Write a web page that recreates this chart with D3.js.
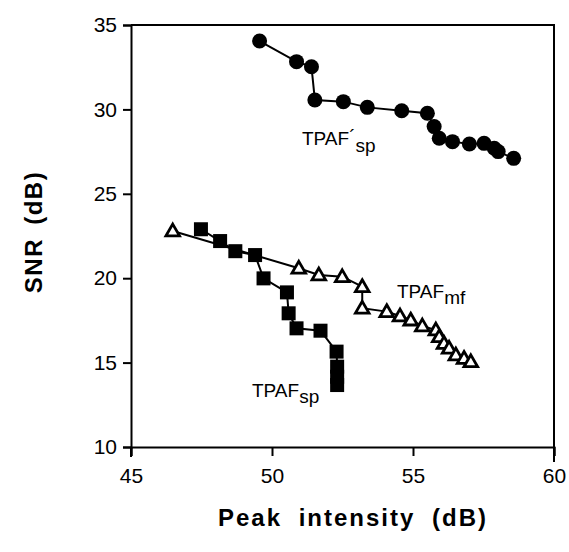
<!DOCTYPE html>
<html><head><meta charset="utf-8">
<script src="https://cdn.jsdelivr.net/npm/d3@7"></script>
<style>
html,body{margin:0;padding:0;background:#fff;}
text{font-family:"Liberation Sans",Arial,Helvetica,sans-serif;fill:#000;}
</style></head>
<body>
<svg id="c" width="569" height="552"></svg>
<script>
// ---- data ----
const circX = [49.56,50.87,51.40,51.52,52.53,53.38,54.60,55.51,55.75,55.93,56.40,57.00,57.52,57.88,58.02,58.57];
const circY = [34.05,32.83,32.53,30.56,30.46,30.12,29.92,29.77,28.98,28.29,28.09,27.95,27.99,27.70,27.50,27.10];
const triX = [46.48,50.95,51.66,52.49,53.20,53.20,54.07,54.54,54.92,55.33,55.81,55.93,56.10,56.28,56.52,56.81,57.05];
const triY = [22.80,20.59,20.19,20.09,19.50,18.22,18.02,17.76,17.52,17.17,16.93,16.53,16.14,15.85,15.45,15.25,15.05];
const sqX = [47.48,48.16,48.70,49.40,49.70,50.53,50.59,50.87,51.72,52.29,52.31,52.31,52.31];
const sqY = [22.90,22.20,21.60,21.37,19.99,19.16,17.92,17.03,16.89,15.65,14.76,14.16,13.67];
const xTicks = [45,50,55,60];
const yTicks = [10,15,20,25,30,35];
const xTitle = "Peak intensity (dB)";
const yTitle = "SNR (dB)";

const svg = d3.select("#c");
const L = 131, R = 554, T = 25, B = 447;
const x = d3.scaleLinear().domain([45,60]).range([L,R]);
const y = d3.scaleLinear().domain([10,35]).range([B,T]);

// frame
svg.append("path").attr("d",`M${L},${T}H${R}V${B+15}`).attr("fill","none").attr("stroke","#000").attr("stroke-width",2);

// axes
const xAxis = d3.axisBottom(x).tickValues(xTicks).tickSize(9).tickPadding(8).tickFormat(d3.format("d"));
const gx = svg.append("g").attr("transform",`translate(0,${B})`).call(xAxis);
gx.select(".domain").attr("stroke-width",2);
gx.selectAll(".tick line").attr("stroke-width",2);
gx.selectAll(".tick text").style("font-size","21px").attr("dy","0.9em");
const yAxis = d3.axisLeft(y).tickValues(yTicks).tickSize(8).tickPadding(6).tickFormat(d3.format("d"));
const gy = svg.append("g").attr("transform",`translate(${L},0)`).call(yAxis);
gy.select(".domain").attr("stroke-width",2);
gy.selectAll(".tick line").attr("stroke-width",2);
gy.selectAll(".tick text").style("font-size","21px");
svg.append("line").attr("x1",L).attr("x2",L).attr("y1",B).attr("y2",B+10).attr("stroke","#000").attr("stroke-width",2);

// titles
svg.append("text").attr("x",353).attr("y",526).attr("text-anchor","middle")
  .style("font-size","24px").style("font-weight","bold").style("letter-spacing","2px").style("word-spacing","8px").text(xTitle);
svg.append("text").attr("transform","translate(42,232) rotate(-90)").attr("text-anchor","middle")
  .style("font-size","24px").style("font-weight","bold").style("letter-spacing","1.5px").style("word-spacing","5px").text(yTitle);

const line = d3.line().x(d=>x(d[0])).y(d=>y(d[1]));
const tri = d3.zip(triX,triY), sq = d3.zip(sqX,sqY), circ = d3.zip(circX,circY);

// triangles series
svg.append("path").datum(tri).attr("d",line).attr("fill","none").attr("stroke","#000").attr("stroke-width",2);
const triSym = d3.symbol().type(d3.symbolTriangle).size(80);
svg.selectAll(".tri").data(tri).join("path").attr("class","tri")
  .attr("transform",d=>`translate(${x(d[0])},${y(d[1])+1})`).attr("d",triSym)
  .attr("fill","#fff").attr("stroke","#000").attr("stroke-width",2.8);

// squares series
svg.append("path").datum(sq).attr("d",line).attr("fill","none").attr("stroke","#000").attr("stroke-width",2);
const s = 14;
svg.selectAll(".sq").data(sq).join("rect").attr("class","sq")
  .attr("x",d=>x(d[0])-s/2).attr("y",d=>y(d[1])-s/2).attr("width",s).attr("height",s).attr("fill","#000");

// circles series
svg.append("path").datum(circ).attr("d",line).attr("fill","none").attr("stroke","#000").attr("stroke-width",2);
svg.selectAll(".ci").data(circ).join("circle").attr("class","ci")
  .attr("cx",d=>x(d[0])).attr("cy",d=>y(d[1])).attr("r",7.5).attr("fill","#000");

// series labels
function lab(xp, yp, main, sub, prime){
  const t = svg.append("text").attr("x",xp).attr("y",yp).style("font-size","19px");
  t.append("tspan").text(main);
  if(prime) t.append("tspan").attr("dy","-2").text("\u00B4");
  t.append("tspan").attr("dy", prime ? "9" : "6").text(sub);
}
lab(302,145,"TPAF","sp",true);
lab(397,298,"TPAF","mf",false);
lab(252,397,"TPAF","sp",false);
</script>
</body></html>
